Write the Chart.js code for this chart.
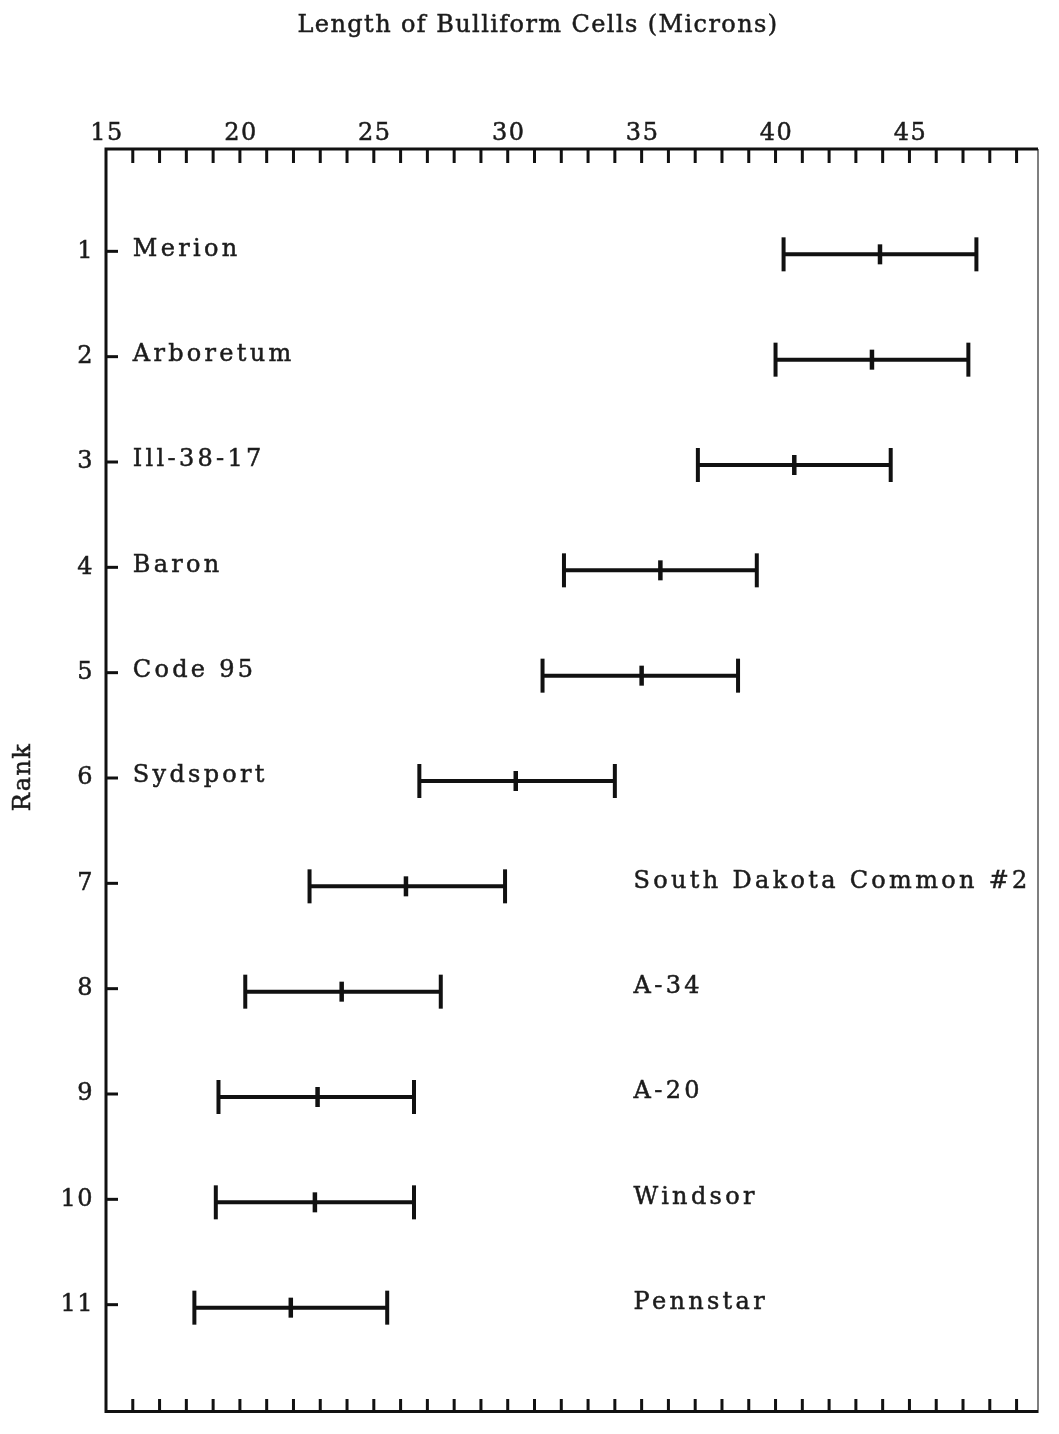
<!DOCTYPE html>
<html>
<head>
<meta charset="utf-8">
<title>Length of Bulliform Cells</title>
<script src="https://cdn.jsdelivr.net/npm/chart.js@4/dist/chart.umd.min.js"></script>
<style>
  html, body { margin: 0; padding: 0; background: #ffffff; overflow: hidden; }
  #chart { display: block; width: 1059px; height: 1434px; }
</style>
</head>
<body>
<canvas id="chart" width="1059" height="1434"></canvas>
<script>
// Turf varieties ranked by bulliform cell length (microns)
const varieties = ['Merion', 'Arboretum', 'Ill-38-17', 'Baron', 'Code 95', 'Sydsport',
  'South Dakota Common #2', 'A-34', 'A-20', 'Windsor', 'Pennstar'];
const ranks = [1, 2, 3, 4, 5, 6, 7, 8, 9, 10, 11];
const lowValues  = [40.3, 40.0, 37.1, 32.1, 31.3, 26.7, 22.6, 20.2, 19.2, 19.1, 18.3];
const meanValues = [43.9, 43.6, 40.7, 35.7, 35.0, 30.3, 26.2, 23.8, 22.9, 22.8, 21.9];
const highValues = [47.5, 47.2, 44.3, 39.3, 38.6, 34.0, 29.9, 27.5, 26.5, 26.5, 25.5];
const xTickLabels = [15, 20, 25, 30, 35, 40, 45];
const rankTickLabels = [1, 2, 3, 4, 5, 6, 7, 8, 9, 10, 11];

const TITLE = 'Length of Bulliform Cells (Microns)';
const Y_TITLE = 'Rank';
const INK = '#111111';
const TEXT = '#1c1c1c';
const FONT = '"DejaVu Serif", "Liberation Serif", serif';

// one line per variety spanning its range
const rangeSets = ranks.map((r, i) => ({
  type: 'scatter',
  showLine: true,
  data: [{ x: lowValues[i], y: r }, { x: highValues[i], y: r }],
  borderColor: INK,
  borderWidth: 4,
  pointRadius: 0,
  borderCapStyle: 'butt'
}));

const capSet = {
  type: 'scatter',
  data: ranks.flatMap((r, i) => [{ x: lowValues[i], y: r }, { x: highValues[i], y: r }]),
  pointStyle: 'line',
  rotation: 90,
  pointRadius: 17,
  borderColor: INK,
  borderWidth: 4
};

const meanSet = {
  type: 'scatter',
  data: ranks.map((r, i) => ({ x: meanValues[i], y: r })),
  pointStyle: 'line',
  rotation: 90,
  pointRadius: 10,
  borderColor: INK,
  borderWidth: 4.5
};

// filled text with a hairline stroke for a heavier printed look
function inkText(ctx, str, x, y) {
  ctx.fillText(str, x, y);
  ctx.strokeText(str, x, y);
}

// frame, inward ticks, tick labels, variety names and titles
const framePlugin = {
  id: 'frame',
  afterDraw(chart) {
    const { ctx, chartArea: a, scales } = chart;
    const xs = scales.x, ys = scales.y;
    ctx.save();
    ctx.lineCap = 'butt';

    // right border (thin)
    ctx.strokeStyle = '#555';
    ctx.lineWidth = 1.5;
    ctx.beginPath();
    ctx.moveTo(a.right, a.top);
    ctx.lineTo(a.right, a.bottom);
    ctx.stroke();

    // top, left and bottom axis lines
    ctx.strokeStyle = INK;
    ctx.lineWidth = 3;
    ctx.beginPath();
    ctx.moveTo(a.right, a.top);
    ctx.lineTo(a.left, a.top);
    ctx.lineTo(a.left, a.bottom - 1.5);
    ctx.lineTo(a.right, a.bottom - 1.5);
    ctx.stroke();

    // minor ticks every micron on top and bottom, pointing inward
    ctx.lineWidth = 3;
    for (let v = Math.ceil(xs.min) + 1; v < xs.max; v++) {
      const px = xs.getPixelForValue(v);
      ctx.beginPath();
      ctx.moveTo(px, a.top);
      ctx.lineTo(px, a.top + 14);
      ctx.moveTo(px, a.bottom);
      ctx.lineTo(px, a.bottom - 14);
      ctx.stroke();
    }

    // rank ticks on the left axis
    rankTickLabels.forEach(r => {
      const py = ys.getPixelForValue(r) - 3;
      ctx.beginPath();
      ctx.moveTo(a.left, py);
      ctx.lineTo(a.left + 12, py);
      ctx.stroke();
    });

    ctx.fillStyle = TEXT;
    ctx.strokeStyle = TEXT;
    ctx.lineWidth = 0.5;
    ctx.font = '24px ' + FONT;
    ctx.letterSpacing = '1.5px';

    // x tick labels above the top axis
    ctx.textAlign = 'center';
    ctx.textBaseline = 'alphabetic';
    xTickLabels.forEach(v => {
      inkText(ctx, String(v), xs.getPixelForValue(v) + 1, a.top - 9);
    });

    // rank labels
    ctx.textAlign = 'right';
    ctx.textBaseline = 'middle';
    rankTickLabels.forEach(r => {
      inkText(ctx, String(r), a.left - 12, ys.getPixelForValue(r) - 3);
    });

    // variety names: upper six on the left, the rest in the right column
    ctx.textAlign = 'left';
    ctx.letterSpacing = '3.3px';
    varieties.forEach((name, i) => {
      const px = ranks[i] <= 6 ? xs.getPixelForValue(16.0) : xs.getPixelForValue(34.7);
      inkText(ctx, name, px, ys.getPixelForValue(ranks[i]) - 5);
    });

    // chart title
    ctx.textAlign = 'center';
    ctx.textBaseline = 'alphabetic';
    ctx.letterSpacing = '1.4px';
    inkText(ctx, TITLE, 538, 32);

    // y axis title
    ctx.translate(24, 777);
    ctx.rotate(-Math.PI / 2);
    ctx.textBaseline = 'middle';
    inkText(ctx, Y_TITLE, 0, 0);

    ctx.restore();
  }
};

new Chart(document.getElementById('chart'), {
  type: 'scatter',
  data: { datasets: [...rangeSets, capSet, meanSet] },
  options: {
    responsive: false,
    animation: false,
    events: [],
    devicePixelRatio: 1,
    layout: { padding: { left: 106, top: 149, right: 4, bottom: 0 } },
    plugins: { legend: { display: false }, tooltip: { enabled: false } },
    scales: {
      x: { type: 'linear', min: 15, max: 49.8, display: false },
      y: { type: 'linear', min: 0, max: 12, reverse: true, display: false }
    }
  },
  plugins: [framePlugin]
});
</script>
</body>
</html>
